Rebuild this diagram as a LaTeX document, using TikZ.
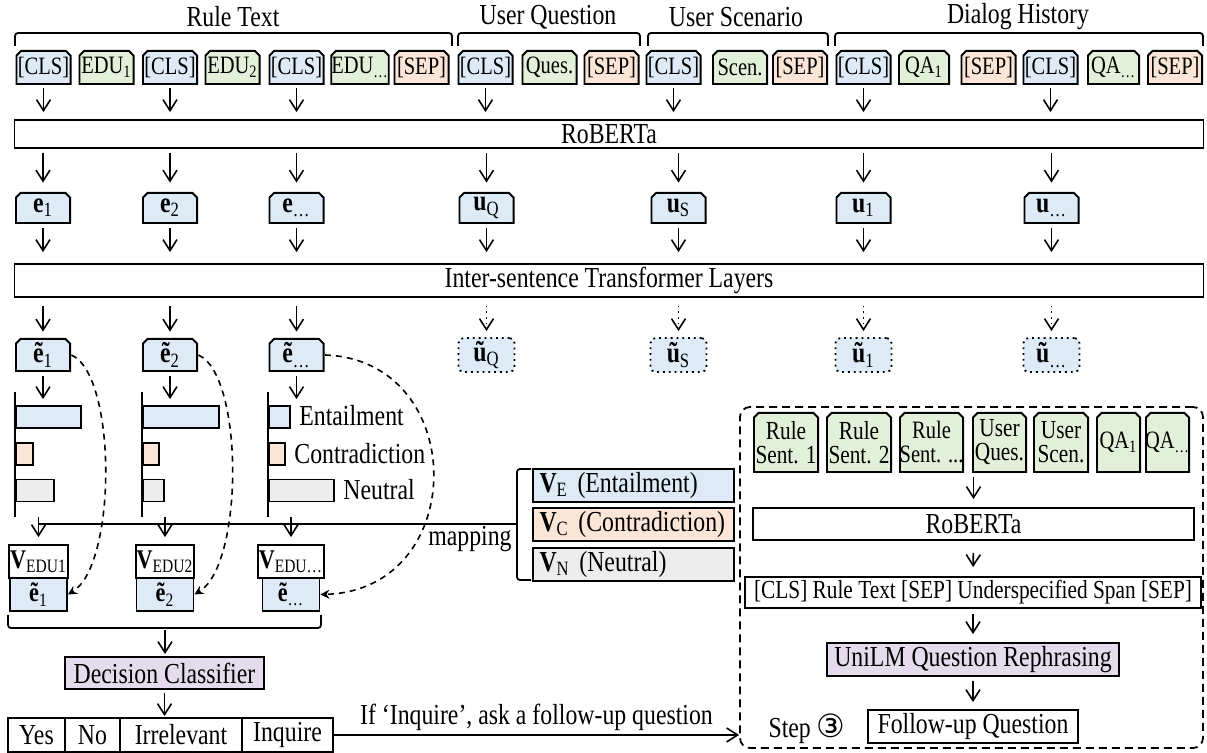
\documentclass[tikz,border=0pt]{standalone}
\usepackage{fontspec}
\setmainfont{Liberation Serif}[FakeStretch=0.82]
\newfontfamily\circfont{DejaVu Sans}
\usetikzlibrary{arrows.meta}
\definecolor{bluefill}{HTML}{DEEBF7}
\definecolor{greenfill}{HTML}{E2F0D9}
\definecolor{orangefill}{HTML}{FBE5D6}
\definecolor{grayfill}{HTML}{EDEDED}
\definecolor{purplefill}{HTML}{E4DCEC}
\newcommand{\vsub}[2]{\textbf{#1}\textsubscript{#2}}

\begin{document}
\begin{tikzpicture}[x=0.5pt,y=-0.5pt,font=\fontsize{14.5}{16}\selectfont,
	tok/.style={rectangle,minimum width=28pt,minimum height=17.5pt,inner sep=0.5pt,font=\fontsize{12.5}{13}\selectfont,
		path picture={\draw[line width=0.9pt,fill=#1]
			([shift={(0.45pt,0.45pt)}]path picture bounding box.south west) --
			([shift={(0.45pt,-2.8pt)}]path picture bounding box.north west) --
			([shift={(2.8pt,-0.45pt)}]path picture bounding box.north west) --
			([shift={(-2.8pt,-0.45pt)}]path picture bounding box.north east) --
			([shift={(-0.45pt,-2.8pt)}]path picture bounding box.north east) --
			([shift={(-0.45pt,0.45pt)}]path picture bounding box.south east) -- cycle;}},
	cls/.style={tok=bluefill},
	edu/.style={tok=greenfill},
	sep/.style={tok=orangefill},
	vec/.style={tok=bluefill,minimum height=16pt,font=\fontsize{14.5}{16}\selectfont},
	hid/.style={draw,dotted,rounded corners=2.5pt,fill=bluefill,line width=0.9pt,minimum width=28pt,minimum height=17pt,inner sep=0.5pt},
	plain/.style={draw,line width=0.9pt,inner sep=1pt},
	bar/.style={draw,line width=0.9pt,minimum height=11pt,inner sep=0pt,anchor=west},
	stk/.style={draw,line width=0.9pt,minimum width=28.5pt,minimum height=16.5pt,inner sep=0.5pt,font=\fontsize{13.5}{14}\selectfont},
	vbox/.style={draw,line width=0.9pt,minimum height=16.5pt,text width=94pt,align=left,inner xsep=3.25pt,inner ysep=1pt,font=\fontsize{14.5}{15}\selectfont},
	cell/.style={draw,line width=0.9pt,minimum height=17pt,inner sep=0.5pt},
	brace/.style={line width=0.9pt,rounded corners=1.5pt},
	stepbox/.style={draw,line width=0.9pt,dash pattern=on 4pt off 2.5pt,rounded corners=5pt,minimum width=231.5pt,minimum height=170.5pt},
	arr/.style={-{Straight Barb[length=5.5pt,width=7pt]},line width=0.8pt},
	dasharr/.style={-{Stealth[length=4.5pt,width=4.5pt,inset=1.5pt]},line width=0.8pt,dash pattern=on 3pt off 2.5pt}]

	\useasboundingbox (0,0) rectangle (1207,753);

	\node (hrule) at (233,17) {Rule Text};
	\node (hques) at (548,17) {User Question};
	\node (hscen) at (736,17) {User Scenario};
	\node (hhist) at (1018,17) {Dialog History};
	\draw[brace] (15,46) -- (15,33) -- (452,33) -- (452,46);
	\draw[brace] (458,46) -- (458,33) -- (640,33) -- (640,46);
	\draw[brace] (648,46) -- (648,33) -- (828,33) -- (828,46);
	\draw[brace] (835,46) -- (835,33) -- (1203,33) -- (1203,46);

	\node[cls] (c1) at (43.5,67.5) {[CLS]};
	\node[edu] (d1) at (106.5,67.5) {EDU\textsubscript{1}};
	\node[cls] (c2) at (170,67.5) {[CLS]};
	\node[edu] (d2) at (232.5,67.5) {EDU\textsubscript{2}};
	\node[cls] (c3) at (296.5,67.5) {[CLS]};
	\node[edu] (d3) at (360,67.5) {EDU\textsubscript{…}};
	\node[sep] (s1) at (421.5,67.5) {[SEP]};
	\node[cls] (cq) at (485.5,67.5) {[CLS]};
	\node[edu] (dq) at (549.5,67.5) {Ques.};
	\node[sep] (sq) at (611.5,67.5) {[SEP]};
	\node[cls] (cs) at (673.5,67.5) {[CLS]};
	\node[edu] (ds) at (740,67.5) {Scen.};
	\node[sep] (ss) at (800,67.5) {[SEP]};
	\node[cls] (ch1) at (863.5,67.5) {[CLS]};
	\node[edu,minimum width=26pt] (dh1) at (924,67.5) {QA\textsubscript{1}};
	\node[sep] (sh1) at (988.5,67.5) {[SEP]};
	\node[cls] (ch2) at (1050.5,67.5) {[CLS]};
	\node[edu,minimum width=26.5pt] (dh2) at (1113.5,67.5) {QA\textsubscript{…}};
	\node[sep] (sh2) at (1175,67.5) {[SEP]};

	\node[plain,minimum width=594.5pt,minimum height=14pt] (rob) at (609,134) {RoBERTa};
	\draw[arr,shorten <=1.5pt,shorten >=3.5pt] (c1.south) -- (c1.south |- rob.north);
	\draw[arr,shorten <=1.5pt,shorten >=3.5pt] (c2.south) -- (c2.south |- rob.north);
	\draw[arr,shorten <=1.5pt,shorten >=3.5pt] (c3.south) -- (c3.south |- rob.north);
	\draw[arr,shorten <=1.5pt,shorten >=3.5pt] (cq.south) -- (cq.south |- rob.north);
	\draw[arr,shorten <=1.5pt,shorten >=3.5pt] (cs.south) -- (cs.south |- rob.north);
	\draw[arr,shorten <=1.5pt,shorten >=3.5pt] (ch1.south) -- (ch1.south |- rob.north);
	\draw[arr,shorten <=1.5pt,shorten >=3.5pt] (ch2.south) -- (ch2.south |- rob.north);

	\node[vec] (e1) at (43,208) {\vsub{e}{1}};
	\node[vec] (e2) at (170,208) {\vsub{e}{2}};
	\node[vec] (e3) at (296.5,208) {\vsub{e}{…}};
	\node[vec] (uq) at (486.5,208) {\vsub{u}{Q}};
	\node[vec] (us) at (678.5,208) {\vsub{u}{S}};
	\node[vec] (u1) at (863.5,208) {\vsub{u}{1}};
	\node[vec] (u2) at (1051.5,208) {\vsub{u}{…}};
	\draw[arr,shorten <=2pt,shorten >=4.5pt] (e1 |- rob.south) -- (e1.north);
	\draw[arr,shorten <=2pt,shorten >=4.5pt] (e2 |- rob.south) -- (e2.north);
	\draw[arr,shorten <=2pt,shorten >=4.5pt] (e3 |- rob.south) -- (e3.north);
	\draw[arr,shorten <=2pt,shorten >=4.5pt] (uq |- rob.south) -- (uq.north);
	\draw[arr,shorten <=2pt,shorten >=4.5pt] (us |- rob.south) -- (us.north);
	\draw[arr,shorten <=2pt,shorten >=4.5pt] (u1 |- rob.south) -- (u1.north);
	\draw[arr,shorten <=2pt,shorten >=4.5pt] (u2 |- rob.south) -- (u2.north);

	\node[plain,minimum width=594.5pt,minimum height=16.5pt] (inter) at (609,280.5) {Inter-sentence Transformer Layers};
	\draw[arr,shorten <=2pt,shorten >=5.5pt] (e1.south) -- (e1.south |- inter.north);
	\draw[arr,shorten <=2pt,shorten >=5.5pt] (e2.south) -- (e2.south |- inter.north);
	\draw[arr,shorten <=2pt,shorten >=5.5pt] (e3.south) -- (e3.south |- inter.north);
	\draw[arr,shorten <=2pt,shorten >=5.5pt] (uq.south) -- (uq.south |- inter.north);
	\draw[arr,shorten <=2pt,shorten >=5.5pt] (us.south) -- (us.south |- inter.north);
	\draw[arr,shorten <=2pt,shorten >=5.5pt] (u1.south) -- (u1.south |- inter.north);
	\draw[arr,shorten <=2pt,shorten >=5.5pt] (u2.south) -- (u2.south |- inter.north);

	\node[vec,minimum height=17pt] (te1) at (43,355) {\vsub{\~{e}}{1}};
	\node[vec,minimum height=17pt] (te2) at (170,355) {\vsub{\~{e}}{2}};
	\node[vec,minimum height=17pt] (te3) at (296.5,355) {\vsub{\~{e}}{…}};
	\node[hid] (tuq) at (486.5,355) {\vsub{\~{u}}{Q}};
	\node[hid] (tus) at (678.5,355) {\vsub{\~{u}}{S}};
	\node[hid] (tu1) at (863.5,355) {\vsub{\~{u}}{1}};
	\node[hid] (tu2) at (1051.5,355) {\vsub{\~{u}}{…}};
	\draw[arr,shorten <=4pt,shorten >=3pt] (te1 |- inter.south) -- (te1.north);
	\draw[arr,shorten <=4pt,shorten >=3pt] (te2 |- inter.south) -- (te2.north);
	\draw[arr,shorten <=4pt,shorten >=3pt] (te3 |- inter.south) -- (te3.north);
	\draw[arr,dotted,shorten <=4pt,shorten >=3pt] (tuq |- inter.south) -- (tuq.north);
	\draw[arr,dotted,shorten <=4pt,shorten >=3pt] (tus |- inter.south) -- (tus.north);
	\draw[arr,dotted,shorten <=4pt,shorten >=3pt] (tu1 |- inter.south) -- (tu1.north);
	\draw[arr,dotted,shorten <=4pt,shorten >=3pt] (tu2 |- inter.south) -- (tu2.north);

	\coordinate (ax1t) at (15,392);
	\coordinate (ax1b) at (15,517);
	\coordinate (ax2t) at (142,392);
	\coordinate (ax2b) at (142,517);
	\coordinate (ax3t) at (268,392);
	\coordinate (ax3b) at (268,517);
	\node[bar,fill=bluefill,minimum width=32.5pt] (b1e) at (15,417) {};
	\node[bar,fill=orangefill,minimum width=8.5pt] (b1c) at (15,454) {};
	\node[bar,fill=grayfill,minimum width=19pt] (b1n) at (15,490.5) {};
	\node[bar,fill=bluefill,minimum width=38pt] (b2e) at (142,417) {};
	\node[bar,fill=orangefill,minimum width=8pt] (b2c) at (142,454) {};
	\node[bar,fill=grayfill,minimum width=10.5pt] (b2n) at (142,490.5) {};
	\node[bar,fill=bluefill,minimum width=10.5pt] (b3e) at (268,417) {};
	\node[bar,fill=orangefill,minimum width=8pt] (b3c) at (268,454) {};
	\node[bar,fill=grayfill,minimum width=32.5pt] (b3n) at (268,490.5) {};
	\draw[line width=0.9pt] (ax1t) -- (ax1b);
	\draw[line width=0.9pt] (ax2t) -- (ax2b);
	\draw[line width=0.9pt] (ax3t) -- (ax3b);
	\node[anchor=west,inner sep=1pt] (lent) at (297,416) {Entailment};
	\node[anchor=west,inner sep=1pt] (lcon) at (292,454) {Contradiction};
	\node[anchor=west,inner sep=1pt] (lneu) at (341,490) {Neutral};
	\draw[arr,shorten <=2pt,shorten >=3pt] (te1.south) -- (te1.south |- b1e.north);
	\draw[arr,shorten <=2pt,shorten >=3pt] (te2.south) -- (te2.south |- b2e.north);
	\draw[arr,shorten <=2pt,shorten >=3pt] (te3.south) -- (te3.south |- b3e.north);

	\node[stk] (v1) at (38.5,561.5) {\vsub{V}{EDU1}};
	\node[stk,fill=bluefill] (t1) at (38.5,594.5) {\vsub{\~{e}}{1}};
	\node[stk] (v2) at (165,561.5) {\vsub{V}{EDU2}};
	\node[stk,fill=bluefill] (t2) at (165,594.5) {\vsub{\~{e}}{2}};
	\node[stk] (v3) at (291,561.5) {\vsub{V}{EDU…}};
	\node[stk,fill=bluefill] (t3) at (291,594.5) {\vsub{\~{e}}{…}};
	\draw[arr,shorten >=3.5pt] (v1.north |- ax1b) -- (v1.north);
	\draw[arr,shorten >=3.5pt] (v2.north |- ax2b) -- (v2.north);
	\draw[arr,shorten >=3.5pt] (v3.north |- ax3b) -- (v3.north);

	\draw[dasharr] (te1.east) .. controls (117,375) and (117,565) .. (t1.east);
	\draw[dasharr] (te2.east) .. controls (244,375) and (244,565) .. (t2.east);
	\draw[dasharr] (te3.east) .. controls (470,360) and (470,590) .. (t3.east);

	\node[vbox,fill=bluefill] (ve) at (633.5,485.5) {\vsub{V}{E} (Entailment)};
	\node[vbox,fill=orangefill] (vc) at (633.5,524.5) {\vsub{V}{C} (Contradiction)};
	\node[vbox,fill=grayfill] (vn) at (633.5,564.5) {\vsub{V}{N} (Neutral)};
	\draw[brace] (531,469) -- (517,469) -- (517,580) -- (531,580);
	\coordinate (brk) at (517,524);
	\draw[line width=0.8pt] (brk) -- (brk -| v1.north);
	\node (maplbl) at (470,539) {mapping};

	\draw[brace] (8,615) -- (8,628) -- (321,628) -- (321,615);
	\coordinate (brb) at (165,628);
	\node[plain,fill=purplefill,minimum width=99.5pt,minimum height=16pt] (dc) at (164.5,673) {Decision Classifier};
	\draw[arr,shorten <=1pt,shorten >=1pt] (brb) -- (brb |- dc.north);
	\node[cell,minimum width=28.5pt] (yes) at (36.5,735) {Yes};
	\node[cell,minimum width=27.5pt] (no) at (92.5,735) {No};
	\node[cell,minimum width=61pt] (irr) at (181,735) {Irrelevant};
	\node[cell,minimum width=45.5pt] (inq) at (287.5,735) {Inquire};
	\draw[arr,shorten <=1.5pt,shorten >=0.5pt] (dc.south) -- (dc.south |- irr.north);

	\node[stepbox] (st3) at (971.5,577.5) {};
	\draw[arr] (inq.east) -- (inq.east -| st3.west) node[midway,above,inner sep=2pt] (iflbl) {If ‘Inquire’, ask a follow-up question};

	\node[edu,minimum width=33pt,minimum height=30.5pt,align=center,font=\fontsize{13}{12}\selectfont] (rs1) at (786,442.5) {Rule\\Sent. 1};
	\node[edu,minimum width=33pt,minimum height=30.5pt,align=center,font=\fontsize{13}{12}\selectfont] (rs2) at (859,442.5) {Rule\\Sent. 2};
	\node[edu,minimum width=32.5pt,minimum height=30.5pt,align=center,inner sep=0pt,font=\fontsize{12.5}{12}\selectfont] (rs3) at (931.5,442.5) {Rule\\Sent. ...};
	\node[edu,minimum width=27.5pt,minimum height=30.5pt,align=center,font=\fontsize{13}{12}\selectfont] (uqs) at (999.5,442.5) {User\\Ques.};
	\node[edu,minimum width=28pt,minimum height=30.5pt,align=center,font=\fontsize{13}{12}\selectfont] (uss) at (1061,442.5) {User\\Scen.};
	\node[edu,minimum width=22.5pt,minimum height=30.5pt,inner sep=0pt,font=\fontsize{12.5}{12}\selectfont] (qa1) at (1118.5,442.5) {QA\textsubscript{1}};
	\node[edu,minimum width=22.5pt,minimum height=30.5pt,inner sep=0pt,font=\fontsize{12.5}{12}\selectfont] (qa2) at (1167.5,442.5) {QA\textsubscript{…}};

	\node[plain,minimum width=220.5pt,minimum height=16pt] (rob2) at (973.5,524) {RoBERTa};
	\draw[arr,shorten <=2pt,shorten >=4pt] (rob2.north |- rs1.south) -- (rob2.north);
	\node[plain,minimum width=228pt,minimum height=15.5pt,font=\fontsize{13}{14}\selectfont] (seq) at (973,592.5) {[CLS] Rule Text [SEP] Underspecified Span [SEP]};
	\draw[arr,shorten <=6pt,shorten >=4.5pt] (rob2.south) -- (seq.north);
	\node[plain,fill=purplefill,minimum width=146pt,minimum height=16.5pt] (uni) at (973,659.5) {UniLM Question Rephrasing};
	\draw[arr,shorten <=2.5pt,shorten >=4pt] (seq.south) -- (uni.north);
	\node[plain,minimum width=105pt,minimum height=16.5pt] (fq) at (973,726.5) {Follow-up Question};
	\draw[arr,shorten <=2pt,shorten >=3.5pt] (uni.south) -- (fq.north);
	\node (steplbl) at (807,729) {Step {\circfont\fontsize{16}{16}\selectfont ③}};

\end{tikzpicture}
\end{document}
